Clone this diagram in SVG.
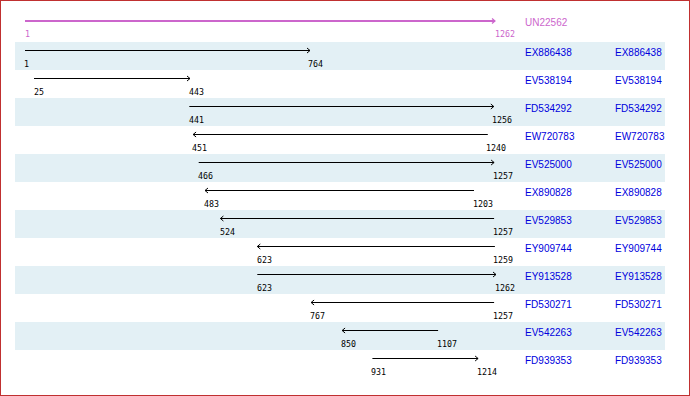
<svg xmlns="http://www.w3.org/2000/svg" width="690" height="396" viewBox="0 0 690 396">
<defs>
<marker id="ah" markerUnits="userSpaceOnUse" markerWidth="6" markerHeight="8" refX="3.5" refY="3" orient="auto" overflow="visible">
<path d="M0.5,0.5 L3.5,3 L0.5,5.5" fill="none" stroke="#000" stroke-width="1"/>
</marker>
<marker id="ahp" markerUnits="userSpaceOnUse" markerWidth="6" markerHeight="8" refX="3.5" refY="3" orient="auto" overflow="visible">
<path d="M0.5,0.5 L3.5,3 L0.5,5.5" fill="none" stroke="#cc66cc" stroke-width="1.2"/>
</marker>
</defs>
<style>
.band{fill:#e3f0f5}
.ln{stroke:#000;stroke-width:1;fill:none}
.fw{marker-end:url(#ah)}
.num{font-family:"DejaVu Sans Mono","Liberation Mono",monospace;font-size:8.3px;fill:#000}
.nm{font-family:"Liberation Sans",Arial,sans-serif;font-size:10px;fill:#0000dd}
.pu{fill:#cc66cc}
</style>
<rect x="0.5" y="0.5" width="689" height="395" fill="#fff" stroke="#c03030" stroke-width="1"/>
<g id="ref-UN22562">
<line x1="25" y1="21" x2="495" y2="21" stroke="#cc66cc" stroke-width="2" marker-end="url(#ahp)"/>
<text class="num pu" x="25" y="37">1</text>
<text class="num pu" x="495" y="37">1262</text>
<text class="nm pu" x="525" y="26">UN22562</text>
</g>
<g id="row-EX886438" transform="translate(0,42)">
<rect class="band" x="15" y="0" width="650" height="28"/>
<text class="num" x="24" y="25">1</text><text class="num" x="308" y="25">764</text>
<text class="nm" x="525" y="14">EX886438</text><text class="nm" x="615" y="14">EX886438</text>
</g>
<g id="row-EV538194" transform="translate(0,70)">
<text class="num" x="34" y="25">25</text><text class="num" x="189" y="25">443</text>
<text class="nm" x="525" y="14">EV538194</text><text class="nm" x="615" y="14">EV538194</text>
</g>
<g id="row-FD534292" transform="translate(0,98)">
<rect class="band" x="15" y="0" width="650" height="28"/>
<text class="num" x="189" y="25">441</text><text class="num" x="492" y="25">1256</text>
<text class="nm" x="525" y="14">FD534292</text><text class="nm" x="615" y="14">FD534292</text>
</g>
<g id="row-EW720783" transform="translate(0,126)">
<text class="num" x="192" y="25">451</text><text class="num" x="486" y="25">1240</text>
<text class="nm" x="525" y="14">EW720783</text><text class="nm" x="615" y="14">EW720783</text>
</g>
<g id="row-EV525000" transform="translate(0,154)">
<rect class="band" x="15" y="0" width="650" height="28"/>
<text class="num" x="198" y="25">466</text><text class="num" x="493" y="25">1257</text>
<text class="nm" x="525" y="14">EV525000</text><text class="nm" x="615" y="14">EV525000</text>
</g>
<g id="row-EX890828" transform="translate(0,182)">
<text class="num" x="204" y="25">483</text><text class="num" x="473" y="25">1203</text>
<text class="nm" x="525" y="14">EX890828</text><text class="nm" x="615" y="14">EX890828</text>
</g>
<g id="row-EV529853" transform="translate(0,210)">
<rect class="band" x="15" y="0" width="650" height="28"/>
<text class="num" x="220" y="25">524</text><text class="num" x="493" y="25">1257</text>
<text class="nm" x="525" y="14">EV529853</text><text class="nm" x="615" y="14">EV529853</text>
</g>
<g id="row-EY909744" transform="translate(0,238)">
<text class="num" x="257" y="25">623</text><text class="num" x="493" y="25">1259</text>
<text class="nm" x="525" y="14">EY909744</text><text class="nm" x="615" y="14">EY909744</text>
</g>
<g id="row-EY913528" transform="translate(0,266)">
<rect class="band" x="15" y="0" width="650" height="28"/>
<text class="num" x="257" y="25">623</text><text class="num" x="495" y="25">1262</text>
<text class="nm" x="525" y="14">EY913528</text><text class="nm" x="615" y="14">EY913528</text>
</g>
<g id="row-FD530271" transform="translate(0,294)">
<text class="num" x="310" y="25">767</text><text class="num" x="493" y="25">1257</text>
<text class="nm" x="525" y="14">FD530271</text><text class="nm" x="615" y="14">FD530271</text>
</g>
<g id="row-EV542263" transform="translate(0,322)">
<rect class="band" x="15" y="0" width="650" height="28"/>
<text class="num" x="341" y="25">850</text><text class="num" x="437" y="25">1107</text>
<text class="nm" x="525" y="14">EV542263</text><text class="nm" x="615" y="14">EV542263</text>
</g>
<g id="row-FD939353" transform="translate(0,350)">
<text class="num" x="371" y="25">931</text><text class="num" x="477" y="25">1214</text>
<text class="nm" x="525" y="14">FD939353</text><text class="nm" x="615" y="14">FD939353</text>
</g>
<g id="connectors">
<line class="ln fw" x1="25" y1="50.5" x2="310" y2="50.5"/>
<line class="ln fw" x1="34" y1="78.5" x2="190" y2="78.5"/>
<line class="ln fw" x1="189.3" y1="106.5" x2="493.8" y2="106.5"/>
<line class="ln fw" x1="487.8" y1="134.5" x2="193.1" y2="134.5"/>
<line class="ln fw" x1="198.7" y1="162.5" x2="494.1" y2="162.5"/>
<line class="ln fw" x1="474" y1="190.5" x2="205" y2="190.5"/>
<line class="ln fw" x1="494.1" y1="218.5" x2="220.4" y2="218.5"/>
<line class="ln fw" x1="494.9" y1="246.5" x2="257.3" y2="246.5"/>
<line class="ln fw" x1="257.3" y1="274.5" x2="496" y2="274.5"/>
<line class="ln fw" x1="494.1" y1="302.5" x2="311.1" y2="302.5"/>
<line class="ln fw" x1="438.1" y1="330.5" x2="342.1" y2="330.5"/>
<line class="ln fw" x1="372.4" y1="358.5" x2="478.1" y2="358.5"/>
</g>
</svg>
